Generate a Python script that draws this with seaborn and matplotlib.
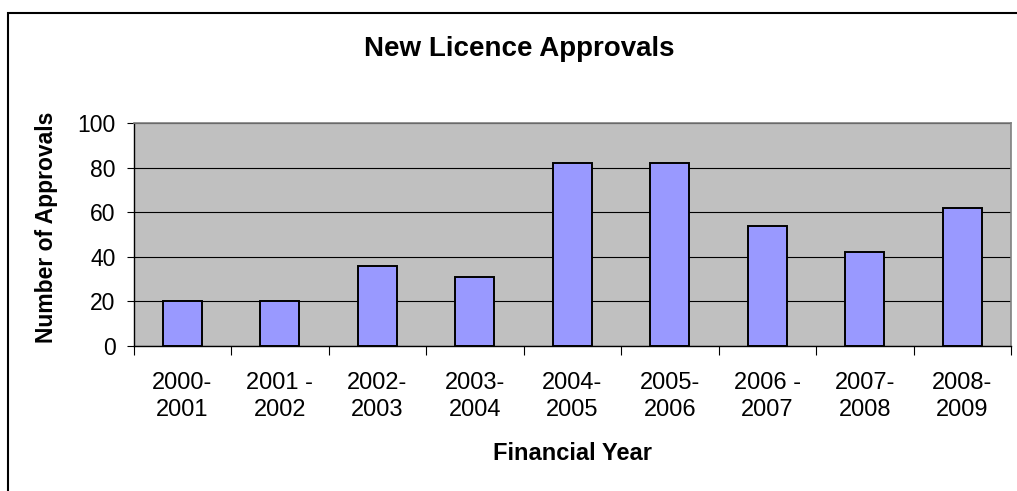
import matplotlib
matplotlib.use('Agg')
import matplotlib.pyplot as plt
import seaborn as sns
import pandas as pd

# данные с графика
years = ['2000-\n2001', '2001 -\n2002', '2002-\n2003', '2003-\n2004', '2004-\n2005',
         '2005-\n2006', '2006 -\n2007', '2007-\n2008', '2008-\n2009']
approvals = [20, 20, 36, 31, 82, 82, 54, 42, 62]
y_ticks = [0, 20, 40, 60, 80, 100]

df = pd.DataFrame({'year': years, 'approvals': approvals})

sns.set_style('white')
plt.rcParams['font.family'] = ['Liberation Sans', 'DejaVu Sans']
plt.rcParams['text.color'] = 'black'
plt.rcParams['axes.labelcolor'] = 'black'
plt.rcParams['xtick.color'] = 'black'
plt.rcParams['ytick.color'] = 'black'

W, H = 1017, 491
fig = plt.figure(figsize=(W / 100, H / 100), dpi=100)
ax = fig.add_axes([133.5 / W, 1 - 345.7 / H, (1011 - 133.5) / W, (345.7 - 123.3) / H])

# рамка всей диаграммы (видны только левая и верхняя стороны)
fig.add_artist(plt.Rectangle((8 / W, -0.5), 2, 0.5 + 1 - 13 / H, transform=fig.transFigure,
                             fill=False, edgecolor='black', linewidth=1.5))

ax.set_facecolor('#C0C0C0')
ax.set_axisbelow(True)
ax.yaxis.grid(True, color='black', linewidth=0.8)

sns.barplot(data=df, x='year', y='approvals', color='#9999FF', saturation=1,
            width=0.4, edgecolor='black', linewidth=1.4, ax=ax)

ax.set_ylim(0, 100)
ax.set_xlim(-0.5, len(years) - 0.5)
ax.set_yticks(y_ticks)

# засечки между категориями, как в Excel
ax.set_xticks([i - 0.5 for i in range(len(years) + 1)], minor=True)
ax.tick_params(axis='x', which='minor', direction='out', length=6.5, width=0.8, color='black', bottom=True)
ax.tick_params(axis='x', which='major', length=0, pad=19, labelsize=17)
ax.tick_params(axis='y', which='major', direction='out', length=5, width=0.8, color='black',
               left=True, pad=8, labelsize=16.5)
for lbl in ax.get_xticklabels():
    lbl.set_linespacing(1.3)

for side in ['left', 'bottom']:
    ax.spines[side].set_color('black')
    ax.spines[side].set_linewidth(1.0)
for side in ['top', 'right']:
    ax.spines[side].set_visible(True)
    ax.spines[side].set_color('#808080')
    ax.spines[side].set_linewidth(1.2)

ax.set_ylabel('Number of Approvals', fontsize=16.5, fontweight='bold')
ax.yaxis.set_label_coords(-0.086, 0.531)
ax.set_xlabel('Financial Year', fontsize=17, fontweight='bold')
ax.xaxis.label.set_va('baseline')
ax.xaxis.set_label_coords(0.5, -0.514)

fig.text(519 / W, 1 - 55.7 / H, 'New Licence Approvals', ha='center', va='baseline',
         fontsize=20, fontweight='bold')

plt.savefig('out.png', dpi=100)
plt.close()
